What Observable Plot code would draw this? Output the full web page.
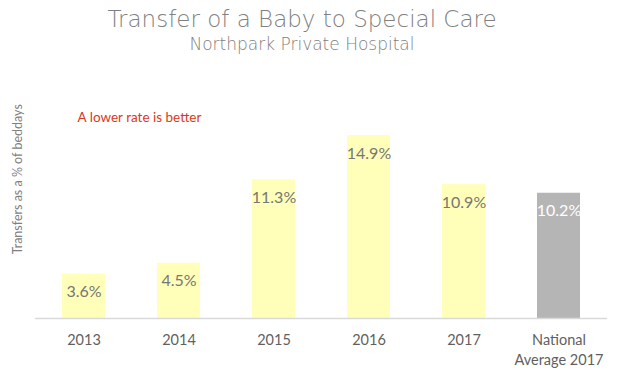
<!DOCTYPE html>
<html><head><meta charset="utf-8">
<script src="https://cdn.jsdelivr.net/npm/d3@7"></script>
<script src="https://cdn.jsdelivr.net/npm/@observablehq/plot@0.6"></script>
<style>
html,body{margin:0;padding:0;background:#fff}
body{width:622px;height:377px;overflow:hidden;position:relative}
#header{position:relative;height:60px;width:622px}
#title{position:absolute;left:0;width:604px;top:5px;text-align:center;font-family:"DejaVu Sans",sans-serif;font-size:23px;line-height:28px;color:#808080;font-weight:200}
#subtitle{position:absolute;left:0;width:604px;top:34px;text-align:center;font-family:"DejaVu Sans",sans-serif;font-size:17px;line-height:20px;color:#808080;font-weight:200}
svg{display:block}
</style>
</head><body>
<div id="header"><div id="title">Transfer of a Baby to Special Care</div><div id="subtitle">Northpark Private Hospital</div></div>
<div id="chart"></div>
<script>
const categories = ["2013","2014","2015","2016","2017","National\nAverage 2017"];
const values = [3.6, 4.5, 11.3, 14.9, 10.9, 10.2];
const isNational = [false, false, false, false, false, true];
const annotation = "A lower rate is better";
const yLabel = "Transfers as a % of beddays";

const data = categories.map((c, i) => ({cat: c, value: values[i], national: isNational[i]}));
const font = "Lato, 'Open Sans', sans-serif";

const chart = Plot.plot({
  width: 622,
  height: 317,
  marginLeft: 35,
  marginRight: 15,
  marginTop: 61.5,
  marginBottom: 59,
  style: {fontFamily: font, background: "#fff"},
  x: {domain: categories, range: [35, 607], paddingInner: 0.55, paddingOuter: 0.27, align: 0.5},
  y: {domain: [0, 16], axis: null},
  marks: [
    Plot.barY(data, {x: "cat", y: "value", fill: d => d.national ? "#b5b5b5" : "#ffffb9"}),
    Plot.ruleY([0], {stroke: "#d9d9d9", strokeWidth: 1.5}),
    Plot.text(data, {x: "cat", y: "value", text: d => d.value.toFixed(1) + "%", dy: 18, fontSize: 16,
      fill: d => d.national ? "#ffffff" : "#767676", fontFamily: font}),
    Plot.axisX({tickSize: 0, tickPadding: 12, fontSize: 14.5, lineHeight: 1.4, color: "#5f5f5f", label: null, fontFamily: font}),
    Plot.text([annotation], {frameAnchor: "top-left", dx: 104, dy: -9.5, text: d => d, fill: "#d9381e", fontSize: 13.5, textAnchor: "middle", fontFamily: font}),
    Plot.text([yLabel], {frameAnchor: "left", dx: -18, dy: -41, rotate: -90, text: d => d, fill: "#7f7f7f", fontSize: 12.5, textAnchor: "middle", fontFamily: font})
  ]
});
document.getElementById("chart").appendChild(chart);
</script>
</body></html>
